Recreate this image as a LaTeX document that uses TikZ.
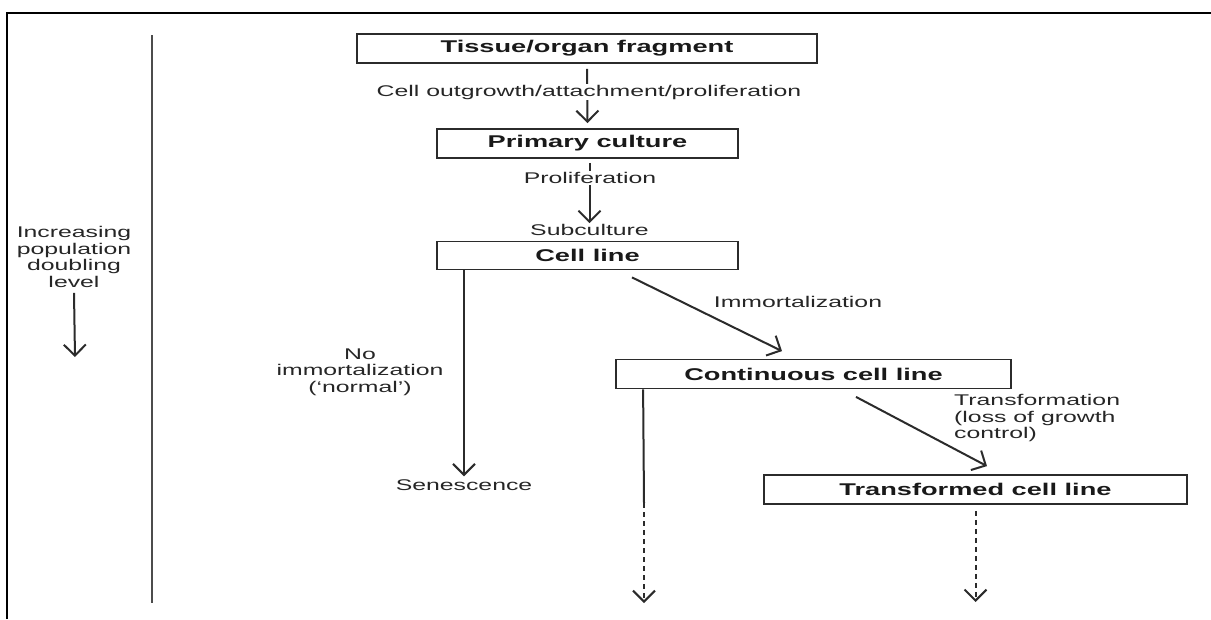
\documentclass[tikz,border=0pt]{standalone}
\usepackage{fontspec}
\setmainfont{Liberation Sans}[FakeStretch=1.6]
\usetikzlibrary{arrows.meta}
\definecolor{inkgray}{HTML}{2b2b2b}

\begin{document}
\begin{tikzpicture}[x=1pt, y=-1pt,
	box/.style={draw=inkgray, line width=1.8pt, inner sep=0pt, font=\fontsize{17}{18}\selectfont\bfseries, text=black!90},
	lbl/.style={inner sep=1pt, font=\fontsize{15.5}{16.7}\selectfont, text=black!85, align=center},
	arr/.style={draw=inkgray, line width=2pt, -{Straight Barb[length=11pt, width=22pt, line width=2pt]}},
	plain/.style={draw=inkgray, line width=2pt},
	dashline/.style={dash pattern=on 5pt off 4pt}]
	\useasboundingbox (0,0) rectangle (1211,619);

	% frame and level scale
	\draw[line width=2.6pt] (7,619) -- (7,13) -- (1211,13);
	\draw[line width=2.4pt, color=black!70] (152,35) -- (152,603);
	\node[lbl](popdoubling) at (74,257) {Increasing\\population\\doubling\\level};
	\coordinate(leveltip) at (75,357);
	\draw[arr] ([yshift=-4pt]popdoubling.south) -- (leveltip);

	% boxes
	\node[box, minimum width=460pt, minimum height=29pt](tissue) at (587,48.5) {Tissue/organ fragment};
	\node[box, minimum width=301pt, minimum height=29pt](primary) at (587.5,143.5) {Primary culture};
	\node[box, minimum width=301pt, minimum height=28pt](cellline) at (587.5,255.5) {Cell line};
	\node[box, minimum width=395pt, minimum height=29pt](continuous) at (813.5,374) {Continuous cell line};
	\node[box, minimum width=423pt, minimum height=29pt](transformed) at (975.5,489.5) {Transformed cell line};

	% main stem
	\draw[arr, shorten <=5pt, shorten >=5pt] (tissue.south) -- (primary.north);
	\node[lbl, fill=white](outgrowth) at (589,92) {Cell outgrowth/attachment/proliferation};
	\node[lbl](subculture) at (589.5,230) {Subculture};
	\draw[arr, shorten <=4pt] (primary.south -| subculture.north) -- (subculture.north);
	\node[lbl, fill=white](prolif) at (590,178) {Proliferation};

	% senescence branch
	\node[lbl](senescence) at (464,485) {Senescence};
	\node[lbl](noimmort) at (360,372) {No\\immortalization\\(`normal')};
	\draw[arr, shorten >=2pt] (senescence.north |- cellline.south) -- (senescence.north);

	% immortalization
	\draw[arr] ([xshift=44.5pt, yshift=-7pt]cellline.south) -- ([xshift=-31.5pt, yshift=7.5pt]continuous.north);
	\node[lbl](immort) at (798,302) {Immortalization};

	% continuous line onwards
	\coordinate(contbreak) at (644,503);
	\coordinate(contend) at (644,603);
	\draw[plain] ([xshift=28pt]continuous.south west) -- (contbreak);
	\draw[arr, dashline] (contbreak) -- (contend);

	% transformation
	\draw[arr] ([xshift=42.5pt, yshift=-7.5pt]continuous.south) -- ([xshift=11.5pt, yshift=8pt]transformed.north);
	\node[lbl, align=left, anchor=west](transform) at (953,418) {Transformation\\(loss of growth\\control)};
	\coordinate(transend) at (975.5,602);
	\draw[arr, dashline] ([yshift=-6pt]transformed.south) -- (transend);
\end{tikzpicture}
\end{document}
